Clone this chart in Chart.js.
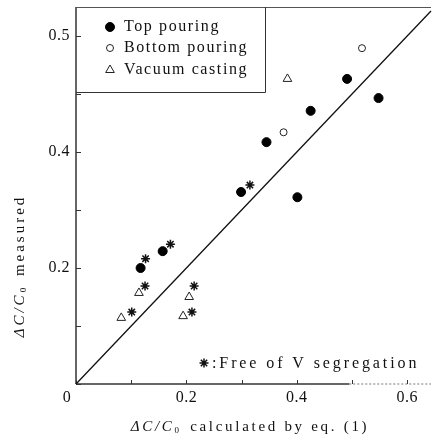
<!DOCTYPE html>
<html>
<head>
<meta charset="utf-8">
<script src="https://cdn.jsdelivr.net/npm/chart.js@4/dist/chart.umd.min.js"></script>
<style>
  html, body { margin: 0; padding: 0; background: #fff; }
  #c { display: block; }
</style>
</head>
<body>
<canvas id="c" width="437" height="441"></canvas>
<script>
// ΔC/C0 calculated (x) vs measured (y)
const topPouring = [
  [0.345, 0.417], [0.425, 0.471], [0.491, 0.526], [0.548, 0.493],
  [0.401, 0.322], [0.299, 0.331], [0.157, 0.229], [0.117, 0.200]
];
const bottomPouring = [
  [0.376, 0.434], [0.518, 0.579]
];
const vacuumCasting = [
  [0.383, 0.526], [0.114, 0.157], [0.205, 0.150], [0.194, 0.117], [0.082, 0.114]
];
const freeOfVSegregation = [
  [0.315, 0.343], [0.171, 0.241], [0.126, 0.216], [0.125, 0.169],
  [0.214, 0.169], [0.210, 0.124], [0.101, 0.124]
];
const xMax = 0.643;
const yMax = 0.65;
const xTicks = [0, 0.1, 0.2, 0.3, 0.4, 0.5, 0.6];
const xTickLabels = ['0', '', '0.2', '', '0.4', '', '0.6'];
const yTicks = [0, 0.1, 0.2, 0.3, 0.4, 0.5, 0.6];
const yTickLabels = ['', '', '0.2', '', '0.4', '', '0.5'];
const seriesNames = ['Top pouring', 'Bottom pouring', 'Vacuum casting'];
const noteText = ':Free of V segregation';

const toXY = arr => arr.map(p => ({ x: p[0], y: p[1] }));
const SERIF = '"Liberation Serif", "DejaVu Serif", serif';
const INK = '#111';

function drawSubLabel(ctx, x, y, main, sub, rest, size) {
  // "ΔC/C" in italic, subscript 0, then the remainder upright
  ctx.font = 'italic ' + size + 'px ' + SERIF;
  ctx.fillText(main, x, y);
  let w = ctx.measureText(main).width;
  ctx.font = (size * 0.6) + 'px ' + SERIF;
  ctx.fillText(sub, x + w, y + size * 0.22);
  w += ctx.measureText(sub).width;
  ctx.font = size + 'px ' + SERIF;
  ctx.fillText(rest, x + w + 2, y);
}
function labelWidth(ctx, main, sub, rest, size) {
  ctx.font = 'italic ' + size + 'px ' + SERIF;
  let w = ctx.measureText(main).width;
  ctx.font = (size * 0.6) + 'px ' + SERIF;
  w += ctx.measureText(sub).width;
  ctx.font = size + 'px ' + SERIF;
  return w + 2 + ctx.measureText(rest).width;
}

const framePlugin = {
  id: 'frame',
  beforeDatasetsDraw(chart) {
    const { ctx, chartArea: a, scales: { x, y } } = chart;
    ctx.save();
    ctx.strokeStyle = '#333';
    // y axis
    ctx.lineWidth = 1.5;
    ctx.beginPath(); ctx.moveTo(a.left, a.top); ctx.lineTo(a.left, a.bottom); ctx.stroke();
    // x axis: solid then faint dotted towards the right
    const xs = x.getPixelForValue(0.495);
    ctx.beginPath(); ctx.moveTo(a.left, a.bottom); ctx.lineTo(xs, a.bottom); ctx.stroke();
    ctx.lineWidth = 1;
    ctx.strokeStyle = '#777';
    ctx.setLineDash([2, 2]);
    ctx.beginPath(); ctx.moveTo(xs, a.bottom); ctx.lineTo(a.right, a.bottom); ctx.stroke();
    ctx.setLineDash([]);
    // top edge
    ctx.strokeStyle = '#555';
    ctx.beginPath(); ctx.moveTo(a.left, a.top + 0.5); ctx.lineTo(a.right, a.top + 0.5); ctx.stroke();
    // inward tick marks
    ctx.strokeStyle = '#333';
    ctx.lineWidth = 1;
    xTicks.forEach(v => {
      const px = Math.round(x.getPixelForValue(v)) + 0.5;
      ctx.beginPath(); ctx.moveTo(px, a.bottom); ctx.lineTo(px, a.bottom - 4); ctx.stroke();
    });
    yTicks.forEach(v => {
      const py = Math.round(y.getPixelForValue(v)) + 0.5;
      ctx.beginPath(); ctx.moveTo(a.left, py); ctx.lineTo(a.left + 5, py); ctx.stroke();
    });
    ctx.restore();
  },
  afterDraw(chart) {
    const { ctx, chartArea: a, scales: { x, y } } = chart;
    ctx.save();
    ctx.fillStyle = INK;
    ctx.letterSpacing = '0.5px';
    ctx.font = '16px ' + SERIF;
    ctx.textBaseline = 'middle';
    // x tick labels (origin label sits left of the corner)
    ctx.textAlign = 'center';
    xTicks.forEach((v, i) => {
      if (!xTickLabels[i]) return;
      const px = x.getPixelForValue(v) - (v === 0 ? 9 : 0);
      ctx.fillText(xTickLabels[i], px, a.bottom + 14);
    });
    // y tick labels
    ctx.textAlign = 'right';
    yTicks.forEach((v, i) => {
      if (!yTickLabels[i]) return;
      ctx.fillText(yTickLabels[i], a.left - 6, y.getPixelForValue(v));
    });

    // legend box
    ctx.strokeStyle = '#333';
    ctx.lineWidth = 1;
    ctx.beginPath();
    ctx.moveTo(265.5, a.top); ctx.lineTo(265.5, 92.5); ctx.lineTo(a.left, 92.5);
    ctx.stroke();
    const ds = chart.data.datasets;
    const rows = [27, 48, 70];
    ctx.textAlign = 'left';
    ctx.letterSpacing = '1.6px';
    ctx.font = '16px ' + SERIF;
    rows.forEach((ry, i) => {
      const d = ds[i];
      ctx.fillStyle = d.backgroundColor;
      ctx.strokeStyle = d.borderColor;
      ctx.lineWidth = d.borderWidth;
      Chart.helpers.drawPoint(ctx, {
        pointStyle: d.pointStyle, radius: d.pointRadius, borderWidth: d.borderWidth
      }, 110, ry);
      ctx.fillStyle = INK;
      ctx.fillText(seriesNames[i], 124, ry);
    });

    // note for the asterisk markers
    const sd = ds[3];
    ctx.strokeStyle = sd.borderColor;
    ctx.lineWidth = sd.borderWidth;
    Chart.helpers.drawPoint(ctx, { pointStyle: 'star', radius: 4.5, borderWidth: sd.borderWidth }, 204, 363);
    ctx.fillStyle = INK;
    ctx.letterSpacing = '2.9px';
    ctx.fillText(noteText, 212, 364);

    // axis titles
    ctx.letterSpacing = '2.7px';
    const size = 15;
    const xw = labelWidth(ctx, 'ΔC/C', '0', ' calculated by eq. (1)', size);
    ctx.textAlign = 'left';
    drawSubLabel(ctx, 250 - xw / 2, 427, 'ΔC/C', '0', ' calculated by eq. (1)', size);
    ctx.letterSpacing = '3px';
    ctx.save();
    ctx.translate(20, 266);
    ctx.rotate(-Math.PI / 2);
    const yw = labelWidth(ctx, 'ΔC/C', '0', ' measured', size);
    drawSubLabel(ctx, -yw / 2, 0, 'ΔC/C', '0', ' measured', size);
    ctx.restore();
    ctx.restore();
  }
};

new Chart(document.getElementById('c'), {
  type: 'scatter',
  data: {
    datasets: [
      { label: seriesNames[0], data: toXY(topPouring), pointStyle: 'circle', pointRadius: 4.5,
        backgroundColor: '#000', borderColor: '#000', borderWidth: 1 },
      { label: seriesNames[1], data: toXY(bottomPouring), pointStyle: 'circle', pointRadius: 3.5,
        backgroundColor: '#fff', borderColor: '#222', borderWidth: 1 },
      { label: seriesNames[2], data: toXY(vacuumCasting), pointStyle: 'triangle', pointRadius: 5,
        backgroundColor: '#fff', borderColor: '#222', borderWidth: 1 },
      { label: 'Free of V segregation', data: toXY(freeOfVSegregation), pointStyle: 'star', pointRadius: 4.5,
        backgroundColor: '#111', borderColor: '#111', borderWidth: 1.5 },
      { type: 'line', label: 'y = x', data: [{ x: 0, y: 0 }, { x: xMax, y: xMax }],
        borderColor: '#111', borderWidth: 1.3, pointRadius: 0, fill: false, clip: 2 }
    ]
  },
  options: {
    responsive: false,
    devicePixelRatio: 1,
    animation: false,
    layout: { padding: { left: 76, right: 0, top: 7, bottom: 57 } },
    plugins: { legend: { display: false }, tooltip: { enabled: false } },
    scales: {
      x: { type: 'linear', min: 0, max: xMax, display: false },
      y: { type: 'linear', min: 0, max: yMax, display: false }
    }
  },
  plugins: [framePlugin]
});
</script>
</body>
</html>
